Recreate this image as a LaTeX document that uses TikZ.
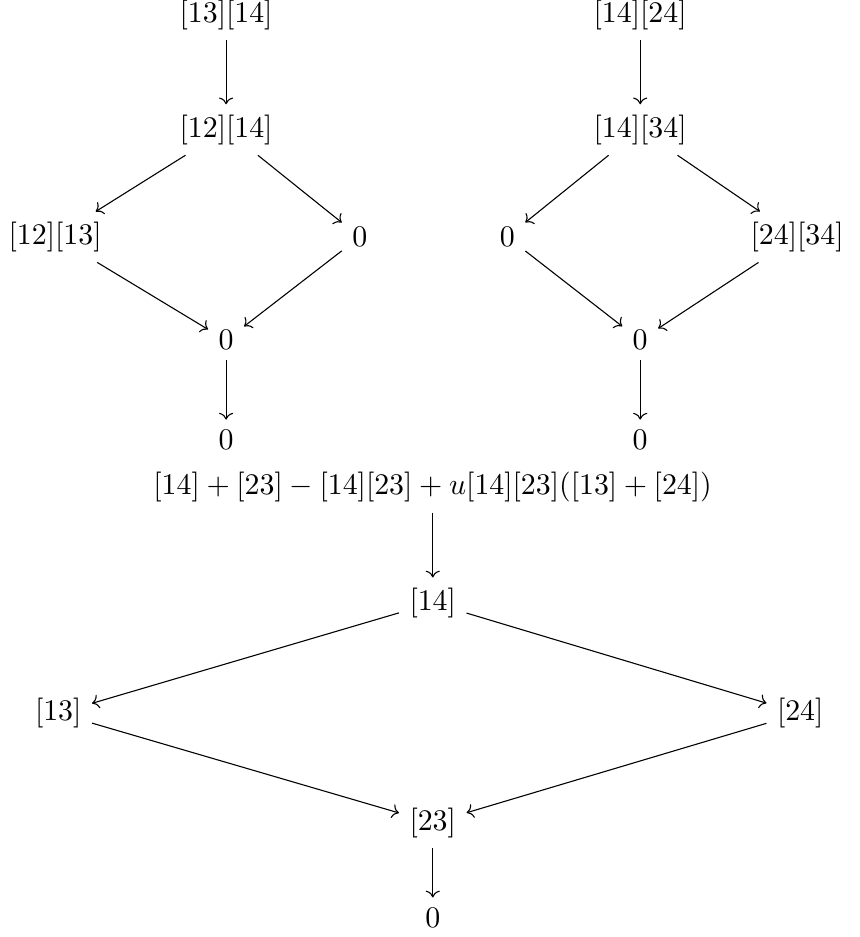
\documentclass[11pt,tikz,border=0pt]{standalone}
\usepackage{amssymb}
\usetikzlibrary{arrows.meta,calc}

\begin{document}
\begin{tikzpicture}[baseline=0]
\useasboundingbox(0,0)rectangle(11.06,-12.06);
\node(a1)at(2.91,-.19){$[13][14]$};\node(a2)at(2.91,-1.67){$[12][14]$};
\node(a3)at(.71,-3.05){$[12][13]$};\node(a4)at(4.63,-3.05){$0$};
\node(a5)at(2.91,-4.38){$0$};\node(a6)at(2.91,-5.66){$0$};
\draw[->](a1)--(a2);\draw[->](a2)--(a3);\draw[->](a2)--(a4);\draw[->](a3)--(a5);\draw[->](a4)--(a5);\draw[->](a5)--(a6);
\node(b1)at(8.24,-.19){$[14][24]$};\node(b2)at(8.24,-1.67){$[14][34]$};
\node(b3)at(6.53,-3.05){$0$};\node(b4)at(10.26,-3.05){$[24][34]$};
\node(b5)at(8.24,-4.38){$0$};\node(b6)at(8.24,-5.66){$0$};
\draw[->](b1)--(b2);\draw[->](b2)--(b3);\draw[->](b2)--(b4);\draw[->](b3)--(b5);\draw[->](b4)--(b5);\draw[->](b5)--(b6);
\node(c0)at(5.57,-6.27){$[14]+[23]-[14][23]+u[14][23]([13]+[24])$};
\node(c1)at(5.57,-7.76){$[14]$};\node(c2)at(.75,-9.18){$[13]$};\node(c3)at(10.30,-9.18){$[24]$};
\node(c4)at(5.57,-10.59){$[23]$};\node(c5)at(5.57,-11.81){$0$};
\draw[->](c0)--(c1);\draw[->](c1)--(c2);\draw[->](c1)--(c3);\draw[->](c2)--(c4);\draw[->](c3)--(c4);\draw[->](c4)--(c5);
\end{tikzpicture}
\end{document}
